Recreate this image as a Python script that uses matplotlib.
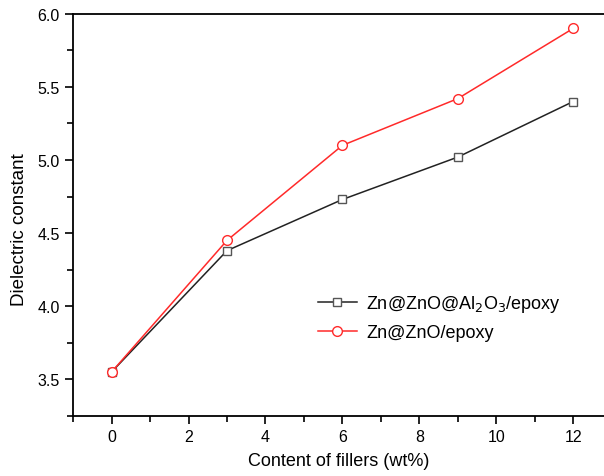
import matplotlib
matplotlib.use("Agg")
import matplotlib.pyplot as plt
from matplotlib.ticker import MultipleLocator

plt.rcParams['font.family'] = ['Liberation Sans', 'DejaVu Sans']

# data
filler = [0, 3, 6, 9, 12]
al2o3_epoxy = [3.55, 4.38, 4.73, 5.02, 5.40]
zno_epoxy = [3.55, 4.45, 5.10, 5.42, 5.90]

fig = plt.figure(figsize=(6.04, 4.77), dpi=100)
ax = fig.add_axes([0.121, 0.126, 0.879, 0.843])

ax.plot(filler, al2o3_epoxy, color='#222222', lw=1.1, marker='s', ms=6,
        mfc='white', mec='#555555', mew=1.0,
        label=r'Zn@ZnO@Al$_2$O$_3$/epoxy')
ax.plot(filler, zno_epoxy, color='#ff2a2a', lw=1.1, marker='o', ms=7,
        mfc='white', mec='#ff2a2a', mew=1.0, label='Zn@ZnO/epoxy')

ax.set_xlim(-1, 12.8)
ax.set_ylim(3.25, 6.0)
ax.xaxis.set_major_locator(MultipleLocator(2))
ax.xaxis.set_minor_locator(MultipleLocator(1))
ax.yaxis.set_major_locator(MultipleLocator(0.5))
ax.yaxis.set_minor_locator(MultipleLocator(0.25))
ax.tick_params(which='major', direction='out', length=6, width=1.2, labelsize=11.5)
ax.tick_params(which='minor', direction='out', length=4, width=1.2)

for s in ['left', 'bottom', 'top']:
    ax.spines[s].set_linewidth(1.3)
ax.spines['right'].set_visible(False)

ax.set_xlabel('Content of fillers (wt%)', fontsize=13, labelpad=6)
ax.set_ylabel('Dielectric constant', fontsize=13.5)
ax.yaxis.set_label_coords(-0.084, 0.466)

ax.legend(loc='upper left', bbox_to_anchor=(0.43, 0.345), frameon=False,
          fontsize=13, handlelength=2.2, handletextpad=0.5, labelspacing=0.55)

fig.savefig('out.png', dpi=100)
